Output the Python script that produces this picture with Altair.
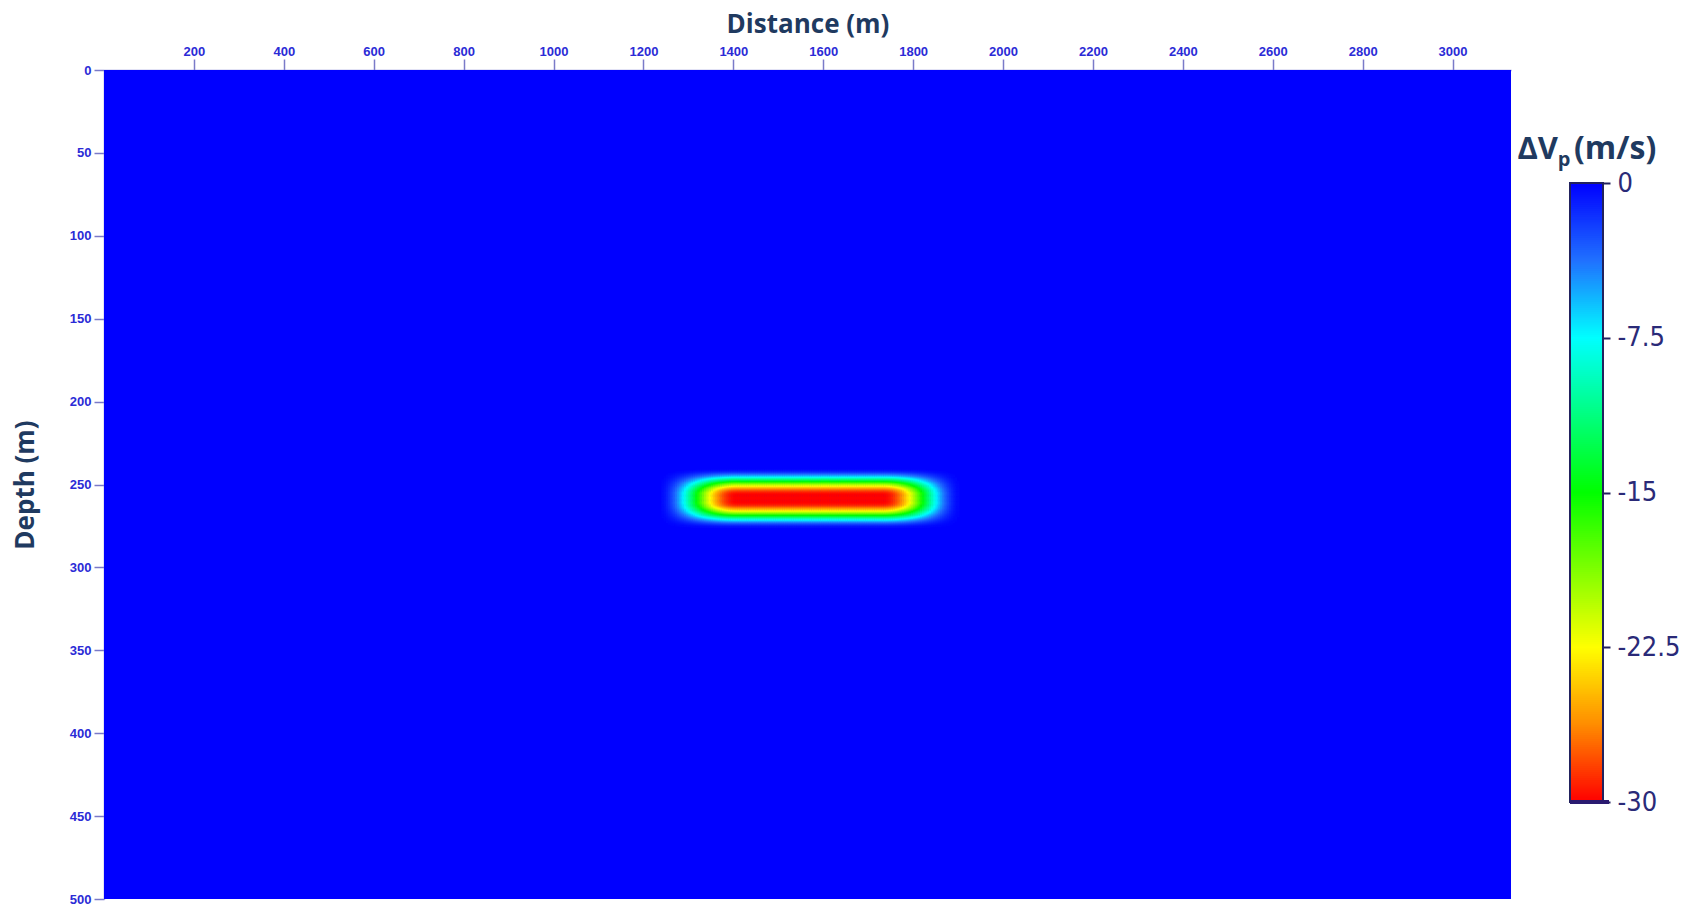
import numpy as np
import pandas as pd
import altair as alt

# ---- model extent and axis ticks ----
X_MAX = 3130          # distance range (m)
Z_MAX = 500           # depth range (m)
x_ticks = list(range(200, 3001, 200))
z_ticks = list(range(0, 501, 50))
cbar_ticks = [0, -7.5, -15, -22.5, -30]

# ---- velocity anomaly: flat-topped box with cosine-tapered edges ----
PEAK_DV = -30.0                 # m/s, core value
anomaly_center = [1567, 258.3]  # (distance, depth) in m
core_half = [162, 2.0]          # half-size of the flat core (m)
taper_len = [178, 16.4]         # width of the cosine taper (m)

# colour map (jet-like, reversed: red = strongest slowdown)
cmap_values = [-30, -26.25, -22.5, -15, -7.5, -3.75, 0]
cmap_colors = ["#ff0000", "#ff8c00", "#ffff00", "#00ff00", "#00ffff", "#2070ff", "#0000ff"]


def taper(d, a, w):
    t = np.clip((np.abs(d) - a) / w, 0.0, 1.0)
    return 0.5 * (1.0 + np.cos(np.pi * t))


# fine grid only around the anomaly; the rest of the section is 0 m/s
dx, dz = 5.0, 0.5
xs = np.arange(1180, 1960, dx)
zs = np.arange(236, 282, dz)
XX, ZZ = np.meshgrid(xs, zs)
DV = PEAK_DV * taper(XX - anomaly_center[0], core_half[0], taper_len[0]) \
     * taper(ZZ - anomaly_center[1], core_half[1], taper_len[1])
keep = DV < -0.15
cells = pd.DataFrame({
    "x": XX[keep], "x2": XX[keep] + dx * 1.6,
    "z": ZZ[keep], "z2": ZZ[keep] + dz * 1.6,
    "dv": DV[keep],
})
background = pd.DataFrame({"x": [0], "x2": [X_MAX], "z": [0], "z2": [Z_MAX], "dv": [0.0]})

color_scale = alt.Scale(domain=cmap_values, range=cmap_colors, interpolate="rgb", clamp=True)
TITLE_COLOR = "#1f3a60"
TICK_LABEL_COLOR = "#2b2bd6"

x_enc = alt.X("x:Q", scale=alt.Scale(domain=[0, X_MAX], nice=False, zero=False),
              axis=alt.Axis(orient="top", values=x_ticks, format="d", title="Distance (m)", grid=False,
                            labelFont="Liberation Sans", labelFontWeight="bold", labelFontSize=13,
                            labelColor=TICK_LABEL_COLOR, labelPadding=1,
                            tickSize=11, tickColor="#7a7ac8", tickWidth=1.5,
                            domainColor="#8c8cd8", domainWidth=1.5,
                            titleFont="Open Sans", titleFontWeight="bold", titleFontSize=26,
                            titleColor=TITLE_COLOR, titlePadding=8))
z_enc = alt.Y("z:Q", scale=alt.Scale(domain=[0, Z_MAX], nice=False, zero=False, reverse=True),
              axis=alt.Axis(values=z_ticks, format="d", title="Depth (m)", grid=False,
                            labelFont="Liberation Sans", labelFontWeight="bold", labelFontSize=13,
                            labelColor=TICK_LABEL_COLOR, labelPadding=3,
                            tickSize=10, tickColor="#7a7ac8", tickWidth=1.5,
                            domainColor="#8c8cd8", domainWidth=1.5,
                            titleFont="Open Sans", titleFontWeight="bold", titleFontSize=26,
                            titleColor=TITLE_COLOR, titlePadding=31))

section = alt.layer(
    alt.Chart(background).mark_rect(),
    alt.Chart(cells).mark_rect(),
).encode(
    x=x_enc, x2="x2:Q", y=z_enc, y2="z2:Q",
    color=alt.Color("dv:Q", scale=color_scale, legend=None),
).properties(width=1407, height=829)

# ---- colour bar, drawn as its own narrow panel ----
BAR_W = 33
CB_DOMAIN = [-34.70, 5.48]
levels = np.round(np.arange(-30.0, 0.0001, 0.1), 2)
bar_df = pd.DataFrame({"v": levels,
                       "v2": np.minimum(levels + 0.16, 0.0),
                       "dv": levels})
bar_df["v"] = np.maximum(bar_df["v"] - 0.05, -30.0)
frame_df = pd.DataFrame({"lo": [-30.0], "hi": [0.0]})

cb_y = alt.Y("v:Q", scale=alt.Scale(domain=CB_DOMAIN, nice=False, zero=False),
             axis=alt.Axis(orient="right", values=cbar_ticks, title=None, domain=False,
                           grid=True, gridColor="#22225e", gridWidth=2,
                           tickSize=7, tickColor="#22225e", tickWidth=2,
                           labelExpr="toString(datum.value)",
                           labelFont="Liberation Sans Narrow, DejaVu Sans Condensed, Liberation Sans",
                           labelFontSize=27, labelColor="#2a2a78", labelPadding=7))

bar_fill = alt.Chart(bar_df).mark_rect().encode(
    x=alt.value(0), x2=alt.value(BAR_W),
    y=cb_y, y2="v2:Q",
    color=alt.Color("dv:Q", scale=color_scale, legend=None),
)
bar_frame = alt.Chart(frame_df).mark_rect(fill="transparent", stroke="#22225e", strokeWidth=2).encode(
    x=alt.value(0), x2=alt.value(BAR_W), y="lo:Q", y2="hi:Q",
)
bar_bottom = alt.Chart(frame_df).mark_rule(color="#2a1a70", strokeWidth=4).encode(
    y="lo:Q", x=alt.value(0), x2=alt.value(BAR_W + 6),
)

title_font = dict(font="Open Sans", fontWeight="bold", color=TITLE_COLOR)
t_main = alt.Chart(pd.DataFrame({"t": ["ΔV"]})).mark_text(
    align="right", baseline="alphabetic", fontSize=31, **title_font
).encode(text="t:N", x=alt.value(-12), y=alt.value(89))
t_sub = alt.Chart(pd.DataFrame({"t": ["p"]})).mark_text(
    align="center", baseline="alphabetic", fontSize=20, **title_font
).encode(text="t:N", x=alt.value(-6), y=alt.value(96))
t_unit = alt.Chart(pd.DataFrame({"t": ["(m/s)"]})).mark_text(
    align="left", baseline="alphabetic", fontSize=32, **title_font
).encode(text="t:N", x=alt.value(4), y=alt.value(89))

colorbar = alt.layer(bar_fill, bar_frame, bar_bottom, t_main, t_sub, t_unit).properties(
    width=BAR_W, height=829
)

chart = alt.hconcat(section, colorbar, spacing=59, bounds="flush").properties(
    padding={"left": 12, "top": 11, "right": 5, "bottom": 0},
    background="white",
).configure_view(stroke="transparent", strokeWidth=0)

chart.save("out.html", embed_options={"renderer": "svg", "actions": False})
